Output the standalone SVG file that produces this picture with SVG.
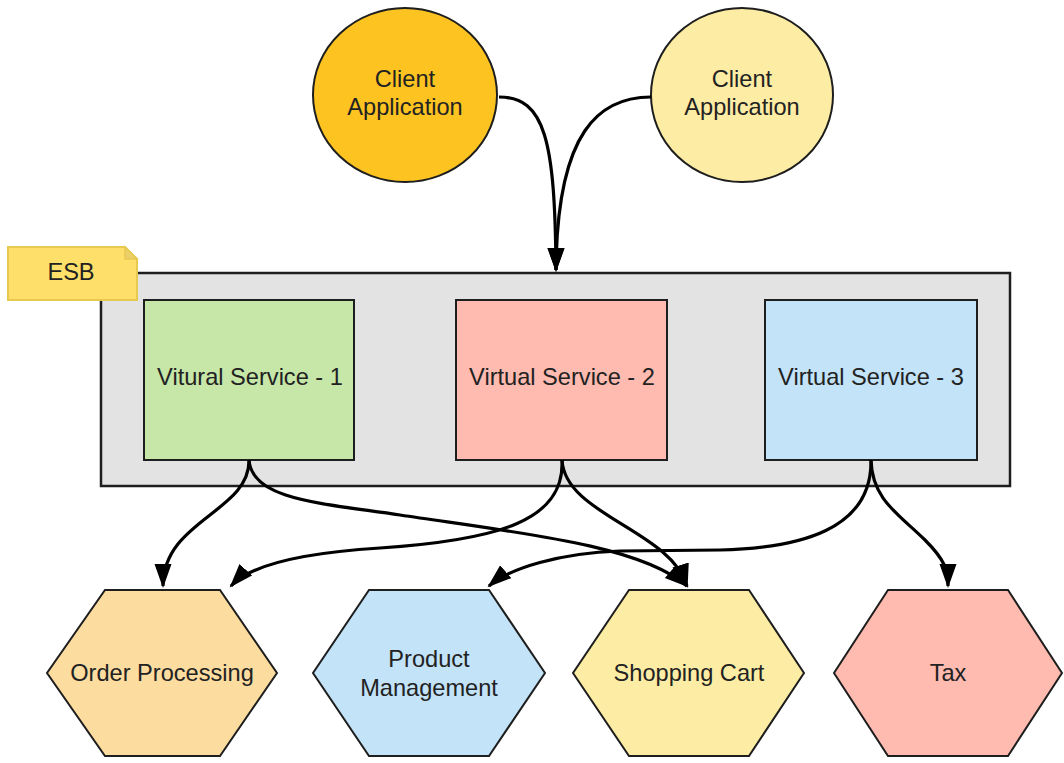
<svg xmlns="http://www.w3.org/2000/svg" width="1064" height="763" viewBox="0 0 1064 763">
<defs>
<style>
.t{font-family:"Liberation Sans",Arial,sans-serif;font-size:23.6px;fill:#222;text-anchor:middle;dominant-baseline:central}
.s{stroke:#1e1e1e;stroke-width:2}
.c{fill:none;stroke:#000;stroke-width:3.2}
</style>
<marker id="a" markerUnits="userSpaceOnUse" markerWidth="26" markerHeight="20" refX="22" refY="8.5" orient="auto">
<path d="M0,0 L24,8.5 L0,17 z" fill="#000"/>
</marker>
</defs>
<rect width="1064" height="763" fill="#fff"/>
<g id="esb">
<rect x="101" y="273" width="909" height="213" fill="#e3e3e3" stroke="#1e1e1e" stroke-width="2.5"/>
</g>
<g id="esb-label">
<path d="M8,247 L125,247 L137,259 L137,300 L8,300 Z" fill="#fddf69" stroke="#e8c950" stroke-width="2"/>
<path d="M125,247 L125,259 L137,259 Z" fill="#ead06a" stroke="#e8c950" stroke-width="1.5"/>
<text class="t" x="71" y="272">ESB</text>
</g>
<g id="client1">
<ellipse cx="405" cy="95" rx="92" ry="87" fill="#fdc421" class="s"/>
<text class="t" x="405" y="79">Client</text>
<text class="t" x="405" y="107">Application</text>
</g>
<g id="client2">
<ellipse cx="742" cy="95" rx="91" ry="87" fill="#fdeca4" class="s"/>
<text class="t" x="742" y="79">Client</text>
<text class="t" x="742" y="107">Application</text>
</g>
<g id="vs1">
<rect x="144" y="300" width="210" height="160" fill="#c6e7a7" class="s"/>
<text class="t" x="250" y="377">Vitural Service - 1</text>
</g>
<g id="vs2">
<rect x="456" y="300" width="211" height="160" fill="#ffbbb0" class="s"/>
<text class="t" x="562" y="377">Virtual Service - 2</text>
</g>
<g id="vs3">
<rect x="765" y="300" width="212" height="160" fill="#c2e3f8" class="s"/>
<text class="t" x="871" y="377">Virtual Service - 3</text>
</g>
<g id="order">
<polygon points="105,590 220,590 277,673 220,756 105,756 47,673" fill="#fddca0" class="s"/>
<text class="t" x="162" y="673">Order Processing</text>
</g>
<g id="product">
<polygon points="369,590 489,590 545,673 489,756 369,756 313,673" fill="#c2e3f8" class="s"/>
<text class="t" x="429" y="659">Product</text>
<text class="t" x="429" y="688">Management</text>
</g>
<g id="cart">
<polygon points="629,590 749,590 804,673 749,756 629,756 573,673" fill="#fdeca4" class="s"/>
<text class="t" x="689" y="673">Shopping Cart</text>
</g>
<g id="tax">
<polygon points="888,590 1008,590 1062,673 1008,756 888,756 834,673" fill="#ffbbb0" class="s"/>
<text class="t" x="948" y="673">Tax</text>
</g>
<g id="connectors">
<path class="c" marker-end="url(#a)" d="M499,97 C545,97 555,140 556,270"/>
<path class="c" marker-end="url(#a)" d="M651,97 C600,97 557,130 556,270"/>
<path class="c" marker-end="url(#a)" d="M249,460 C250,512 163,520 163,586"/>
<path class="c" marker-end="url(#a)" d="M249,460 C252,500 320,503 400,515 C520,533 640,545 687,586"/>
<path class="c" marker-end="url(#a)" d="M562,460 C565,520 500,540 380,548 C300,553 250,565 231,586"/>
<path class="c" marker-end="url(#a)" d="M562,460 C565,515 670,530 687,586"/>
<path class="c" marker-end="url(#a)" d="M871,460 C872,530 800,548 720,550 L620,551 C560,553 510,568 489,586"/>
<path class="c" marker-end="url(#a)" d="M871,460 C872,500 900,515 925,540 C945,560 948,570 948,586"/>
</g>
</svg>
